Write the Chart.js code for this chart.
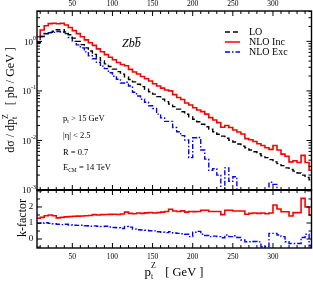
<!DOCTYPE html>
<html>
<head>
<meta charset="utf-8">
<script src="https://cdn.jsdelivr.net/npm/chart.js@4.4.1/dist/chart.umd.min.js"></script>
<style>
html, body { margin:0; padding:0; background:#fff; }
#wrap { position:relative; width:313px; height:281px; }
#wrap canvas { position:absolute; left:0; top:0; }
</style>
</head>
<body>
<div id="wrap">
  <canvas id="upper" width="313" height="281"></canvas>
  <canvas id="lower" width="313" height="281"></canvas>
</div>
<script>
// bin edges of p_t^Z [GeV]
const binEdges = [5,10,15,20,25,30,35,40,45,50,55,60,65,70,75,80,85,90,95,100,105,110,115,120,125,130,135,140,145,150,
  155,160,165,170,175,180,185,190,195,200,205,210,215,220,225,230,235,240,245,250,255,260,265,270,275,280,285,290,295,300,
  305,310,315,320,325,330,335,340,345,350];

// dsigma/dpt [pb/GeV]
const lo = [0.95,1.25,1.42,1.52,1.6,1.72,1.72,1.55,1.36,1.16,
  1.0,0.86,0.74,0.64,0.545,0.47,0.405,0.352,0.31,0.275,
  0.245,0.218,0.192,0.17,0.152,0.136,0.122,0.108,0.096,0.086,
  0.0765,0.0681,0.0607,0.054,0.0481,0.0428,0.038,0.0339,0.0301,0.0268,
  0.0239,0.0212,0.0189,0.0168,0.015,0.0133,0.0122,0.0111,0.0101,0.0093,
  0.0085,0.0077,0.0071,0.0064,0.0059,0.0054,0.0049,0.0045,0.0041,0.0037,
  0.0034,0.0031,0.0028,0.0026,0.0024,0.0022,0.0020,0.0018,0.0016];
const nloInc = [1.24,1.69,2.06,2.28,2.32,2.27,2.32,2.14,1.9,1.65,
  1.43,1.24,1.07,0.94,0.83,0.705,0.616,0.539,0.477,0.426,
  0.375,0.34,0.323,0.272,0.24,0.22,0.195,0.176,0.159,0.139,
  0.126,0.114,0.104,0.1,0.0842,0.0736,0.0669,0.057,0.0518,0.0458,
  0.0411,0.0382,0.034,0.0289,0.0258,0.0229,0.0185,0.02,0.0183,0.0162,
  0.0148,0.0135,0.0109,0.0103,0.0095,0.0086,0.0079,0.0071,0.0066,0.0079,
  0.0064,0.0053,0.0048,0.0037,0.0039,0.0036,0.0050,0.0036,0.0025];
// null = negative / off scale
const nloExc = [0.93,1.25,1.45,1.49,1.52,1.58,1.55,1.43,1.2,1.0,
  0.85,0.74,0.614,0.512,0.447,0.376,0.316,0.282,0.233,0.198,
  0.172,0.144,0.15,0.126,0.094,0.079,0.068,0.059,0.05,0.044,
  0.034,0.0286,0.0243,0.0243,0.0183,0.015,0.0125,0.0102,0.0045,0.0113,
  0.0115,0.0064,0.0042,0.0025,0.0027,0.002,0.00097,0.0028,0.0015,0.00185,
  0.00085,null,null,null,null,null,null,null,0.00143,0.0013,
  0.00085,0.00047,null,null,null,null,0.0002,0.00054,null];

// k-factors
const kInc = [1.3,1.35,1.45,1.5,1.45,1.32,1.35,1.38,1.4,1.42,
  1.43,1.44,1.45,1.47,1.52,1.5,1.52,1.53,1.54,1.55,
  1.53,1.56,1.68,1.6,1.58,1.62,1.6,1.63,1.66,1.62,
  1.65,1.68,1.72,1.86,1.75,1.72,1.76,1.68,1.72,1.71,
  1.72,1.8,1.8,1.72,1.72,1.72,1.52,1.8,1.8,1.75,
  1.75,1.75,1.55,1.6,1.62,1.6,1.62,1.58,1.62,2.12,
  1.87,1.7,1.7,1.44,1.65,1.65,2.54,2.0,1.5];
const kExc = [0.98,1.0,1.02,0.98,0.95,0.92,0.9,0.92,0.88,0.86,
  0.85,0.86,0.83,0.8,0.82,0.8,0.78,0.8,0.75,0.72,
  0.7,0.66,0.78,0.74,0.62,0.58,0.56,0.55,0.52,0.51,
  0.45,0.42,0.4,0.45,0.38,0.35,0.33,0.3,0.15,0.42,
  0.48,0.3,0.22,0.15,0.18,0.15,0.08,0.25,0.15,0.2,
  0.1,-0.06,-0.17,-0.17,-0.15,-0.18,-0.48,-0.48,0.35,0.35,
  0.25,0.15,-0.17,-0.28,-0.28,-0.28,0.1,0.3,-0.4];

const xTicks = [50,100,150,200,250,300];
const decades = [-3,-2,-1,0];
const kTicks = [0,1,2];
const seriesNames = ['LO','NLO Inc','NLO Exc'];
const seriesColors = ['#000000','#ff0000','#0000ff'];
const seriesDash = [[5,3],[],[5,2,1.5,2]];

const serif = "'Liberation Serif','DejaVu Serif',serif";

// histogram as step points (left edges + closing right edge)
function steps(vals, floor){
  let pts = [];
  for (let i = 0; i < vals.length; i++){
    let v = vals[i];
    if (v === null) v = floor;
    pts.push({x: binEdges[i], y: v});
  }
  pts.push({x: binEdges[vals.length], y: pts[pts.length-1].y});
  return pts;
}

// text with sub/superscripts
function drawRuns(c, parts, x, y, align){
  let total = 0;
  parts.forEach(function(p){
    c.font = (p.style || '') + ' ' + p.size + 'px ' + serif;
    p.w = c.measureText(p.t).width;
    if (!p.stay) total += p.w;
  });
  let cx = align === 'center' ? x - total/2 : x;
  parts.forEach(function(p){
    c.font = (p.style || '') + ' ' + p.size + 'px ' + serif;
    c.fillText(p.t, cx, y + (p.dy || 0));
    if (!p.stay) cx += p.w;
  });
}

function seg(c, x1, y1, x2, y2){
  c.beginPath(); c.moveTo(x1, y1); c.lineTo(x2, y2); c.stroke();
}

// x ticks (inward) on one edge
function xTickMarks(c, sx, y, dir){
  for (let v = 10; v <= 340; v += 10){
    const px = sx.getPixelForValue(v);
    const len = v % 50 === 0 ? 5 : 3;
    seg(c, px, y, px, y + dir*len);
  }
}

const upperDecor = {
  id: 'upperDecor',
  afterDraw(chart){
    const c = chart.ctx, a = chart.chartArea, sx = chart.scales.x, sy = chart.scales.y;
    c.save();
    c.strokeStyle = '#000'; c.fillStyle = '#000'; c.lineWidth = 1;
    xTickMarks(c, sx, a.top, 1);
    xTickMarks(c, sx, a.bottom, -1);
    // log ticks left/right
    decades.forEach(function(d){
      for (let m = 1; m <= 9; m++){
        const v = m * Math.pow(10, d);
        if (v > sy.max) continue;
        const py = sy.getPixelForValue(v);
        const len = m === 1 ? 5 : 3;
        seg(c, a.left, py, a.left + len, py);
        seg(c, a.right, py, a.right - len, py);
      }
    });
    c.lineWidth = 1.4;
    c.strokeRect(a.left, a.top, a.right - a.left, a.bottom - a.top);

    // top tick labels
    c.font = '7.5px ' + serif; c.textAlign = 'center'; c.textBaseline = 'middle';
    xTicks.forEach(function(v){ c.fillText(String(v), sx.getPixelForValue(v), 4); });

    // y labels 10^n
    c.textBaseline = 'middle'; c.textAlign = 'right';
    decades.forEach(function(d){
      const py = sy.getPixelForValue(Math.pow(10, d));
      const ex = d === 0 ? '0' : '-' + (-d);
      c.font = '6px ' + serif;
      const ew = c.measureText(ex).width;
      c.fillText(ex, 36, py - 3);
      c.font = '9px ' + serif;
      c.fillText('10', 36 - ew, py + 1);
    });

    // y title
    c.textAlign = 'left'; c.textBaseline = 'alphabetic';
    c.save();
    c.translate(10, 100); c.rotate(-Math.PI/2);
    drawRuns(c, [
      {t:'dσ / dp', size:12},
      {t:'t', size:8, dy:3, stay:true},
      {t:'Z', size:8, dy:-6},
      {t:'   [ pb / GeV ]', size:12}
    ], 0, 4, 'center');
    c.restore();

    // process label
    c.font = 'italic 12px ' + serif;
    c.fillText('Zbb', 122, 47);
    const w1 = c.measureText('Zb').width, w2 = c.measureText('Zbb').width;
    c.lineWidth = 0.8;
    seg(c, 122 + w1 + 0.5, 37.5, 122 + w2, 37.5);

    // cuts
    drawRuns(c, [{t:'p', size:8.5}, {t:'t', size:6, dy:2}, {t:' > 15 GeV', size:8.5}], 63, 121);
    drawRuns(c, [{t:'|η| < 2.5', size:8.5}], 63, 138);
    drawRuns(c, [{t:'R = 0.7', size:8.5}], 63, 155);
    drawRuns(c, [{t:'E', size:8.5}, {t:'CM', size:5.5, dy:2}, {t:' = 14 TeV', size:8.5}], 63, 170);

    // legend
    c.font = '10px ' + serif; c.textBaseline = 'middle';
    seriesNames.forEach(function(n, i){
      const y = 32 + i*10;
      c.strokeStyle = seriesColors[i]; c.lineWidth = 1.5;
      c.setLineDash(seriesDash[i]);
      seg(c, 225, y, 240, y);
      c.setLineDash([]);
      c.fillStyle = '#000';
      c.fillText(n, 249, y + 0.5);
    });
    c.restore();
  }
};

const lowerDecor = {
  id: 'lowerDecor',
  afterDraw(chart){
    const c = chart.ctx, a = chart.chartArea, sx = chart.scales.x, sy = chart.scales.y;
    c.save();
    c.strokeStyle = '#000'; c.fillStyle = '#000'; c.lineWidth = 1;
    xTickMarks(c, sx, a.top, 1);
    xTickMarks(c, sx, a.bottom, -1);
    for (let v = -0.5; v <= 3; v += 0.5){
      const py = sy.getPixelForValue(v);
      const len = v % 1 === 0 ? 5 : 3;
      seg(c, a.left, py, a.left + len, py);
      seg(c, a.right, py, a.right - len, py);
    }
    c.lineWidth = 1.4;
    c.strokeRect(a.left, a.top, a.right - a.left, a.bottom - a.top);
    c.lineWidth = 2;
    seg(c, a.left, a.top, a.right, a.top);

    c.font = '7.5px ' + serif; c.textAlign = 'center'; c.textBaseline = 'middle';
    xTicks.forEach(function(v){ c.fillText(String(v), sx.getPixelForValue(v), 257); });
    c.font = '9px ' + serif;
    kTicks.forEach(function(v){ c.fillText(String(v), 31, sy.getPixelForValue(v)); });

    c.textAlign = 'left'; c.textBaseline = 'alphabetic';
    c.save();
    c.translate(22, 218); c.rotate(-Math.PI/2);
    drawRuns(c, [{t:'k-factor', size:12}], 0, 4, 'center');
    c.restore();

    drawRuns(c, [
      {t:'p', size:13},
      {t:'t', size:8, dy:3, stay:true},
      {t:'Z', size:8, dy:-8},
      {t:'   [ GeV ]', size:12.5}
    ], 174, 276, 'center');
    c.restore();
  }
};

function lineSet(label, pts, i){
  return {
    label: label, data: pts, stepped: true,
    borderColor: seriesColors[i], borderWidth: i === 1 ? 1.6 : 1.4,
    borderDash: seriesDash[i], pointRadius: 0, fill: false
  };
}

new Chart(document.getElementById('upper'), {
  type: 'line',
  data: { datasets: [
    lineSet(seriesNames[0], steps(lo), 0),
    lineSet(seriesNames[1], steps(nloInc), 1),
    lineSet(seriesNames[2], steps(nloExc, 1e-5), 2)
  ]},
  options: {
    responsive: false, animation: false,
    layout: { padding: { left: 37, top: 11, right: 1.5, bottom: 91 } },
    plugins: { legend: { display: false }, tooltip: { enabled: false } },
    scales: {
      x: { type: 'linear', min: 6, max: 348, display: false },
      y: { type: 'logarithmic', min: 0.001, max: 4.1, display: false }
    }
  },
  plugins: [upperDecor]
});

new Chart(document.getElementById('lower'), {
  type: 'line',
  data: { datasets: [
    lineSet(seriesNames[1], steps(kInc), 1),
    lineSet(seriesNames[2], steps(kExc), 2)
  ]},
  options: {
    responsive: false, animation: false,
    layout: { padding: { left: 37, top: 190, right: 1.5, bottom: 33 } },
    plugins: { legend: { display: false }, tooltip: { enabled: false } },
    scales: {
      x: { type: 'linear', min: 6, max: 348, display: false },
      y: { type: 'linear', min: -0.56, max: 3.06, display: false }
    }
  },
  plugins: [lowerDecor]
});
</script>
</body>
</html>
